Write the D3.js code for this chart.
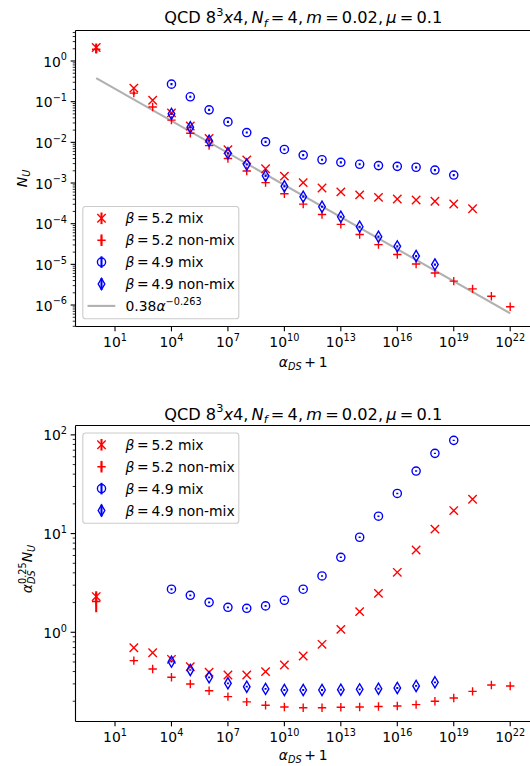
<!DOCTYPE html>
<html><head><meta charset="utf-8">
<script src="https://cdn.jsdelivr.net/npm/d3@7"></script>
<style>body{margin:0;background:#fff} svg text{font-family:"DejaVu Sans",sans-serif;fill:#000;white-space:pre}</style>
</head><body><svg id="c" width="530" height="766"></svg>
<script>
// ---------------- DATA ----------------
const xMix52    = [1,1e2,1e3,1e4,1e5,1e6,1e7,1e8,1e9,1e10,1e11,1e12,1e13,1e14,1e15,1e16,1e17,1e18,1e19,1e20];
const xNonMix52 = [1,1e2,1e3,1e4,1e5,1e6,1e7,1e8,1e9,1e10,1e11,1e12,1e13,1e14,1e15,1e16,1e17,1e18,1e19,1e20,1e21,1e22];
const xMix49    = [1e4,1e5,1e6,1e7,1e8,1e9,1e10,1e11,1e12,1e13,1e14,1e15,1e16,1e17,1e18,1e19];
const xNonMix49 = [1e4,1e5,1e6,1e7,1e8,1e9,1e10,1e11,1e12,1e13,1e14,1e15,1e16,1e17,1e18];

// top panel: N_U
const nuMix52    = [2.15,0.215,0.108,0.053,0.0252,0.0125,0.0066,0.0037,0.00225,0.00148,0.00102,0.000755,0.000605,0.00051,0.000443,0.000404,0.000382,0.000355,0.000305,0.000233];
const nuNonMix52 = [1.95,0.162,0.074,0.0352,0.0167,0.0083,0.004,0.00197,0.00102,0.000545,0.000302,0.000168,9.6e-5,5.4e-5,3.05e-5,1.75e-5,1.02e-5,6.15e-6,3.87e-6,2.5e-6,1.64e-6,9.1e-7];
const nuMix49    = [0.27,0.132,0.063,0.0318,0.0174,0.0103,0.00668,0.00487,0.00373,0.00323,0.00289,0.00268,0.00257,0.00244,0.00208,0.00157];
const nuNonMix49 = [0.0502,0.0234,0.011,0.0054,0.00285,0.0015,0.00083,0.000462,0.000261,0.000148,8.4e-5,4.8e-5,2.77e-5,1.6e-5,9.9e-6];
const errNuMix52    = [0.55,0,0,0,0,0,0,0,0,0,0,0,0,0,0,0,0,0,0,0];
const errNuNonMix52 = [0.4,0.015,0,0,0,0,0,0,0,0,0,0,0,0,0,0,0,0,0,0,0,0];
const errNuMix49    = [0.016,0.008,0.004,0.002,0.001,0.0006,0.0004,0.0003,0.00022,0.0002,0.00017,0.00016,0.00015,0.00015,0.00013,0.0001];
const errNuNonMix49 = [0.003,0.0014,0.0007,0.0003,0.00017,0.00009,0.00005,0.000028,0.000016,0.000009,5e-6,3e-6,1.7e-6,1e-6,6e-7];

// bottom panel: alpha^0.25 N_U
const sMix52    = [2.3,0.698,0.621,0.532,0.448,0.393,0.369,0.369,0.399,0.466,0.575,0.755,1.07,1.62,2.48,4.05,6.82,11.1,17.1,22.3];
const sNonMix52 = [2.05,0.516,0.425,0.35,0.299,0.256,0.223,0.197,0.182,0.175,0.172,0.172,0.174,0.175,0.177,0.179,0.185,0.2,0.216,0.252,0.292,0.286];
const sMix49    = [2.73,2.37,2.01,1.79,1.75,1.85,2.11,2.73,3.72,5.75,9.18,15.0,25.5,43.0,65.0,88.0];
const sNonMix49 = [0.504,0.415,0.35,0.304,0.281,0.267,0.26,0.26,0.26,0.262,0.264,0.268,0.273,0.286,0.311];
const errSMix52    = [0.3,0,0,0,0,0,0,0,0,0,0,0,0,0,0,0,0,0,0,0];
const errSNonMix52 = [0.45,0.01,0,0,0,0,0,0,0,0,0,0,0,0,0,0,0,0,0,0,0,0];
const errSMix49    = [0.06,0.05,0.04,0.035,0.035,0.035,0.04,0.05,0.07,0.1,0.16,0.25,0.4,0.7,1.0,1.4];
const errSNonMix49 = [0.01,0.008,0.007,0.006,0.006,0.006,0.006,0.006,0.006,0.006,0.006,0.006,0.006,0.006,0.007];

// fit line 0.38 alpha^-0.263 (end points)
const fitX = [1,1e22];
const fitY = [0.38,6.25e-7];

const seriesBeta = ["5.2","5.2","4.9","4.9"];
const seriesKind = ["mix","non-mix","mix","non-mix"];
const xTickExps = [1,4,7,10,13,16,19,22];
const yTickExpsTop = [-6,-5,-4,-3,-2,-1,0];
const yTickExpsBot = [0,1,2];

// ---------------- RENDERING ----------------
const svg = d3.select("#c");
const FS = 13.9, TFS = 16.2;
const RED = "#ff0000", BLUE = "#0000ff";
const MS = 0.195; // mathtext thick space (em)

function measure(txt, size, italic){
  const t = svg.append("text").attr("font-size",size).attr("xml:space","preserve")
    .style("white-space","pre").style("font-style",italic?"italic":"normal").text(txt);
  const w = t.node().getComputedTextLength(); t.remove(); return w;
}
// segments: {t, it, sup, sub, stack} or {sp: em}
function rich(parent, segs, x, y, size, anchor, rotate){
  const g = parent.append("g").attr("transform", `translate(${x},${y})` + (rotate?` rotate(${rotate})`:""));
  const txt = g.append("text").attr("font-size", size).attr("xml:space","preserve").style("white-space","pre");
  let cur = 0, prevStart = 0, maxEnd = 0;
  const placed = [];
  segs.forEach(s=>{
    if(s.sp!==undefined){ cur += s.sp*size; maxEnd = Math.max(maxEnd,cur); return; }
    const fs = (s.sup||s.sub) ? size*0.7 : size;
    const w = measure(s.t, fs, s.it);
    const start = s.stack ? prevStart : cur;
    const dyv = s.sup ? -size*0.45 : (s.sub ? size*0.22 : 0);
    placed.push({s, fs, start, dyv});
    if(!s.stack) prevStart = start;
    cur = Math.max(cur, start + w);
    maxEnd = Math.max(maxEnd, cur);
  });
  const off = anchor==="middle" ? -maxEnd/2 : (anchor==="end" ? -maxEnd : 0);
  placed.forEach(p=>{
    txt.append("tspan").attr("x", p.start+off).attr("y", p.dyv)
      .attr("font-size", p.fs).style("font-style", p.s.it?"italic":"normal")
      .text(p.s.t);
  });
  return g;
}

function markerPath(type){
  if(type==="x") return "M-4.2,-4.2L4.2,4.2M-4.2,4.2L4.2,-4.2";
  if(type==="+") return "M-4.2,0H4.2M0,-4.2V4.2";
  if(type==="d") return "M0,-5.6L3.3,0L0,5.6L-3.3,0Z";
  return null;
}
function drawMarker(g, type, color, cx, cy){
  if(type==="o"){
    g.append("circle").attr("cx",cx).attr("cy",cy).attr("r",4.1)
      .attr("fill","none").attr("stroke",color).attr("stroke-width",1.39);
  } else {
    g.append("path").attr("d",markerPath(type)).attr("transform",`translate(${cx},${cy})`)
      .attr("fill","none").attr("stroke",color).attr("stroke-width",1.39);
  }
}

const L = 75.5, R = 530.9;
const x = d3.scaleLog().domain([Math.pow(10,-1.1),Math.pow(10,23.1)]).range([L,R]);

function panel(cfg){
  const {top, bot, yDomain, yTickExps, series, fit, legendTop, ylabel, titleY, xlabelY, ylabelX, ylabelY, clipId} = cfg;
  const y = d3.scaleLog().domain(yDomain).range([bot, top]);
  const g = svg.append("g");
  svg.append("clipPath").attr("id",clipId).append("rect").attr("x",L).attr("y",top).attr("width",R-L).attr("height",bot-top);
  const plot = g.append("g").attr("clip-path",`url(#${clipId})`);

  if(fit){
    plot.append("path").datum(fit.x.map((v,i)=>[v,fit.y[i]]))
      .attr("d", d3.line().x(d=>x(d[0])).y(d=>y(d[1])))
      .attr("fill","none").attr("stroke","#b0b0b0").attr("stroke-width",2.08);
  }
  series.forEach(s=>{
    const sg = plot.append("g");
    s.x.forEach((xv,i)=>{
      const v = s.y[i], e = s.err ? s.err[i] : 0;
      if(e>0){
        const lo = Math.max(v-e, yDomain[0]*0.5);
        sg.append("line").attr("x1",x(xv)).attr("x2",x(xv)).attr("y1",y(lo)).attr("y2",y(v+e))
          .attr("stroke",s.color).attr("stroke-width",2.08);
      }
    });
    s.x.forEach((xv,i)=> drawMarker(sg, s.marker, s.color, x(xv), y(s.y[i])));
  });

  // spines
  g.append("line").attr("x1",L).attr("x2",L).attr("y1",top).attr("y2",bot).attr("stroke","#000").attr("stroke-width",1.11);
  g.append("line").attr("x1",L).attr("x2",R).attr("y1",top).attr("y2",top).attr("stroke","#000").attr("stroke-width",1.11);
  g.append("line").attr("x1",L).attr("x2",R).attr("y1",bot).attr("y2",bot).attr("stroke","#000").attr("stroke-width",1.11);
  g.append("line").attr("x1",R).attr("x2",R).attr("y1",top).attr("y2",bot).attr("stroke","#000").attr("stroke-width",1.11);

  // x ticks
  xTickExps.forEach(e=>{
    const px = x(Math.pow(10,e));
    g.append("line").attr("x1",px).attr("x2",px).attr("y1",bot).attr("y2",bot+4.86).attr("stroke","#000").attr("stroke-width",1.11);
    rich(g,[{t:"10"},{t:String(e),sup:true}],px,bot+20.3,FS,"middle");
  });
  // y ticks
  const lo = Math.log10(yDomain[0]), hi = Math.log10(yDomain[1]);
  for(let d=Math.floor(lo); d<=Math.ceil(hi); d++){
    for(let m=2;m<=9;m++){
      const v = m*Math.pow(10,d);
      if(v<yDomain[0]||v>yDomain[1]) continue;
      g.append("line").attr("x1",L).attr("x2",L-2.78).attr("y1",y(v)).attr("y2",y(v)).attr("stroke","#000").attr("stroke-width",0.83);
    }
  }
  yTickExps.forEach(e=>{
    const py = y(Math.pow(10,e));
    g.append("line").attr("x1",L).attr("x2",L-4.86).attr("y1",py).attr("y2",py).attr("stroke","#000").attr("stroke-width",1.11);
    rich(g,[{t:"10"},{t:(e<0?"\u2212":"")+Math.abs(e),sup:true}],L-8.5,py+5.5,FS,"end");
  });

  // title
  rich(g,[{t:"QCD 8"},{t:"3",sup:true},{t:"x",it:true},{t:"4,"},{sp:MS},{t:"N",it:true},{t:"f",it:true,sub:true},
          {sp:MS},{t:"="},{sp:MS},{t:"4,"},{sp:MS},{t:"m",it:true},{sp:MS},{t:"="},{sp:MS},{t:"0.02,"},{sp:MS},
          {t:"μ",it:true},{sp:MS},{t:"="},{sp:MS},{t:"0.1"}],(L+R)/2,titleY,TFS,"middle");
  // x label
  rich(g,[{t:"α",it:true},{t:"DS",it:true,sub:true},{sp:MS},{t:"+"},{sp:MS},{t:"1"}],(L+R)/2,xlabelY,FS,"middle");
  // y label
  rich(g,ylabel,ylabelX,ylabelY,FS,"middle",-90);

  // legend
  const lg = g.append("g");
  const rows = series.length + (fit?1:0);
  const pitch = 21.9;
  const boxH = 12 + pitch*(rows-1) + 12.6;
  lg.append("rect").attr("x",82.8).attr("y",legendTop).attr("width",156).attr("height",boxH)
    .attr("rx",2.8).attr("fill","#fff").attr("fill-opacity",0.8).attr("stroke","#cccccc").attr("stroke-width",1.1);
  series.forEach((s,i)=>{
    const cy = legendTop + 11.8 + i*pitch;
    lg.append("line").attr("x1",101.5).attr("x2",101.5).attr("y1",cy-5.8).attr("y2",cy+5.8).attr("stroke",s.color).attr("stroke-width",2.08);
    drawMarker(lg, s.marker, s.color, 101.5, cy);
    rich(lg,[{t:"β",it:true},{sp:MS},{t:"="},{sp:MS},{t:seriesBeta[i]+" "+seriesKind[i]}],125.5,cy+5,FS,"start");
  });
  if(fit){
    const cy = legendTop + 11.8 + series.length*pitch;
    lg.append("line").attr("x1",87.5).attr("x2",115.3).attr("y1",cy).attr("y2",cy).attr("stroke","#b0b0b0").attr("stroke-width",2.08);
    rich(lg,[{t:"0.38"},{t:"α",it:true},{t:"\u22120.263",sup:true}],125.5,cy+5,FS,"start");
  }
}

panel({
  top:30.5, bot:326.5, yDomain:[Math.pow(10,-6.528),Math.pow(10,0.75)], yTickExps:yTickExpsTop,
  clipId:"clipTop", legendTop:206.5, titleY:23, xlabelY:367, ylabelX:27, ylabelY:178.5,
  ylabel:[{t:"N",it:true},{t:"U",it:true,sub:true}],
  fit:{x:fitX,y:fitY},
  series:[
    {x:xMix52,y:nuMix52,err:errNuMix52,color:RED,marker:"x"},
    {x:xNonMix52,y:nuNonMix52,err:errNuNonMix52,color:RED,marker:"+"},
    {x:xMix49,y:nuMix49,err:errNuMix49,color:BLUE,marker:"o"},
    {x:xNonMix49,y:nuNonMix49,err:errNuNonMix49,color:BLUE,marker:"d"}
  ]
});
panel({
  top:425.5, bot:721.5, yDomain:[Math.pow(10,-0.904),Math.pow(10,2.095)], yTickExps:yTickExpsBot,
  clipId:"clipBot", legendTop:433, titleY:419.5, xlabelY:760, ylabelX:32, ylabelY:569,
  ylabel:[{t:"α",it:true},{t:"0.25",sup:true},{t:"DS",it:true,sub:true,stack:true},{t:"N",it:true},{t:"U",it:true,sub:true}],
  fit:null,
  series:[
    {x:xMix52,y:sMix52,err:errSMix52,color:RED,marker:"x"},
    {x:xNonMix52,y:sNonMix52,err:errSNonMix52,color:RED,marker:"+"},
    {x:xMix49,y:sMix49,err:errSMix49,color:BLUE,marker:"o"},
    {x:xNonMix49,y:sNonMix49,err:errSNonMix49,color:BLUE,marker:"d"}
  ]
});
</script></body></html>
